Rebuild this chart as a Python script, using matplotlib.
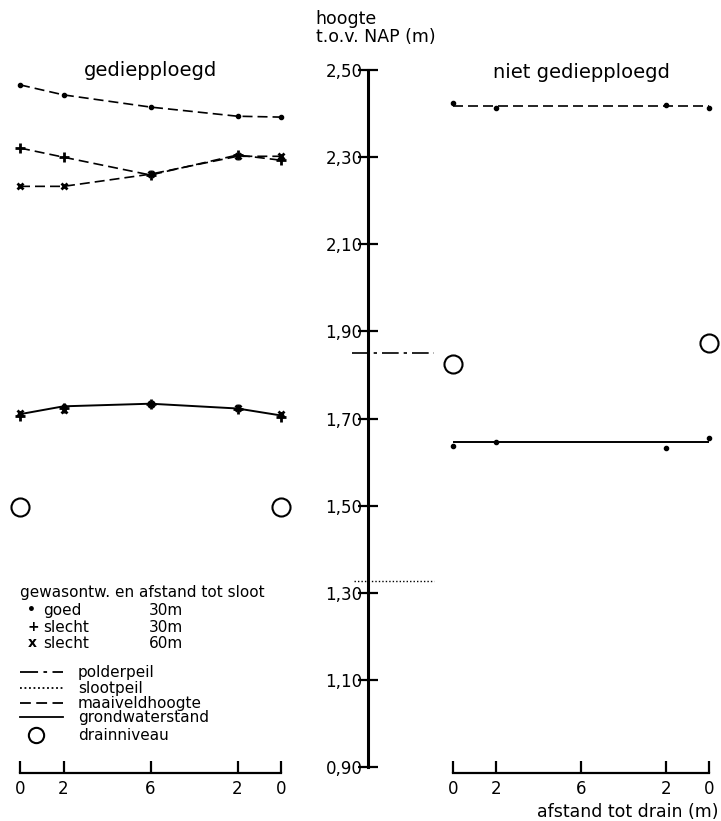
import matplotlib.pyplot as plt

plt.rcParams["font.family"] = ["DejaVu Sans"]

# afstand (0..12 m, drains on both sides)
x_pos = [0, 2, 6, 10, 12]
x_labels = ["0", "2", "6", "2", "0"]

# gediepploegd - maaiveldhoogte
mv_goed30 = [2.466, 2.443, 2.415, 2.394, 2.392]
mv_slecht30 = [2.321, 2.300, 2.259, 2.305, 2.293]
mv_slecht60 = [2.233, 2.233, 2.261, 2.302, 2.302]

# gediepploegd - grondwaterstand
gw_goed30 = [1.710, 1.728, 1.734, 1.723, 1.707]
gw_slecht30 = [1.706, 1.724, 1.734, 1.721, 1.703]
gw_slecht60 = [1.712, 1.720, 1.734, 1.725, 1.711]

# niet gediepploegd
x_right = [0, 2, 10, 12]
mv_right = [2.425, 2.413, 2.420, 2.413]
mv_right_line = [2.418, 2.418]
gw_right = [1.636, 1.645, 1.633, 1.656]
gw_right_line = [1.647, 1.647]
x_line = [0, 12]

# drainniveau
drain_x = [0, 12]
drain_left = [1.498, 1.498]
drain_right = [1.825, 1.873]

# peilen
polderpeil = 1.850
slootpeil = 1.326

y_ticks = [0.90, 1.10, 1.30, 1.50, 1.70, 1.90, 2.10, 2.30, 2.50]

ylim = (0.86, 2.52)
fig = plt.figure(figsize=(7.21, 8.21), dpi=100)
bottom, height = 0.04458, 0.8807

ax_l = fig.add_axes([0.02774, bottom, 0.3620, height])
ax_c = fig.add_axes([0.4716, bottom, 0.1387, height])
ax_r = fig.add_axes([0.6283, bottom, 0.3551, height])

dash = (0, (6, 3))
for ax in (ax_l, ax_r):
    ax.set_ylim(*ylim)
    ax.set_xlim(0, 12)
    for s in ("left", "right", "top"):
        ax.spines[s].set_visible(False)
    ax.spines["bottom"].set_position(("data", 0.886))
    ax.spines["bottom"].set_bounds(0, 12)
    ax.spines["bottom"].set_linewidth(1.6)
    ax.set_yticks([])
    ax.set_xticks(x_pos)
    ax.set_xticklabels(x_labels, fontsize=12)
    ax.tick_params(axis="x", direction="in", length=9, width=1.6, pad=5)
    ax.patch.set_visible(False)

# left panel
ax_l.plot(x_pos, mv_goed30, color="black", lw=1.2, ls=dash, marker=".", ms=6, clip_on=False)
ax_l.plot(x_pos, mv_slecht30, color="black", lw=1.2, ls=dash, marker="+", ms=7, mew=2, clip_on=False)
ax_l.plot(x_pos, mv_slecht60, color="black", lw=1.2, ls=dash, marker="x", ms=5, mew=2, clip_on=False)
ax_l.plot(x_pos, gw_goed30, color="black", lw=1.4, marker=".", ms=6, clip_on=False)
ax_l.plot(x_pos, gw_slecht30, ls="none", color="black", marker="+", ms=7, mew=2, clip_on=False)
ax_l.plot(x_pos, gw_slecht60, ls="none", color="black", marker="x", ms=5, mew=2, clip_on=False)
ax_l.plot(drain_x, drain_left, ls="none", marker="o", ms=13, mfc="white", mec="black", mew=1.5, clip_on=False)
ax_l.text(6, 2.50, "gediepploegd", ha="center", va="center", fontsize=14)

# right panel
ax_r.plot(x_line, mv_right_line, color="black", lw=1.2, ls=dash)
ax_r.plot(x_right, mv_right, ls="none", marker=".", ms=6, color="black", clip_on=False)
ax_r.plot(x_line, gw_right_line, color="black", lw=1.4)
ax_r.plot(x_right, gw_right, ls="none", marker=".", ms=6, color="black", clip_on=False)
ax_r.plot(drain_x, drain_right, ls="none", marker="o", ms=13, mfc="white", mec="black", mew=1.5, clip_on=False)
ax_r.text(6, 2.495, "niet gediepploegd", ha="center", va="center", fontsize=14)
fig.text(0.997, 1 - 812 / 821, "afstand tot drain (m)", ha="right", va="center", fontsize=12.5)

# central axis
ax_c.set_ylim(*ylim)
ax_c.set_xlim(0, 1)
for s in ("right", "top", "bottom"):
    ax_c.spines[s].set_visible(False)
ax_c.spines["left"].set_position(("axes", 0.28))
ax_c.spines["left"].set_bounds(0.90, 2.50)
ax_c.spines["left"].set_linewidth(2.2)
ax_c.set_xticks([])
ax_c.set_yticks(y_ticks)
ax_c.set_yticklabels([f"{v:.2f}".replace(".", ",") for v in y_ticks], fontsize=12)
ax_c.tick_params(axis="y", direction="inout", length=14, width=1.6, pad=-3)
ax_c.patch.set_visible(False)
ax_c.axhline(polderpeil, xmin=0.12, xmax=0.94, color="black", lw=1.2, ls=(0, (10, 3, 2, 3)))
ax_c.axhline(slootpeil, xmin=0.14, xmax=0.94, color="black", lw=1.0, ls=(0, (1, 1.5)))
fig.text(0.438, 0.988, "hoogte\nt.o.v. NAP (m)", ha="left", va="top", fontsize=12.5, linespacing=1.0)

# legend
fs = 11
fig.text(0.028, 1 - 592 / 821, "gewasontw. en afstand tot sloot", fontsize=fs, va="center")
rows = [("•", "goed", "30m", 610), ("+", "slecht", "30m", 627), ("x", "slecht", "60m", 643)]
for sym, lab, dist, yp in rows:
    fig.text(0.038, 1 - yp / 821, sym, fontsize=fs - 1, va="center", fontweight="bold")
    fig.text(0.060, 1 - yp / 821, lab, fontsize=fs, va="center")
    fig.text(0.207, 1 - yp / 821, dist, fontsize=fs, va="center")

leg_items = [("polderpeil", (0, (10, 3, 2, 3)), 672),
             ("slootpeil", (0, (1, 1.5)), 688),
             ("maaiveldhoogte", dash, 703),
             ("grondwaterstand", "-", 717)]
for lab, ls, yp in leg_items:
    yy = 1 - yp / 821
    fig.add_artist(plt.Line2D([0.028, 0.088], [yy, yy], color="black", lw=1.3, ls=ls))
    fig.text(0.108, yy, lab, fontsize=fs, va="center")
yy = 1 - 735 / 821
fig.add_artist(plt.Line2D([0.050], [yy], ls="none", marker="o", ms=11, mfc="white", mec="black", mew=1.5))
fig.text(0.108, yy, "drainniveau", fontsize=fs, va="center")

fig.savefig("out.png", dpi=100)
